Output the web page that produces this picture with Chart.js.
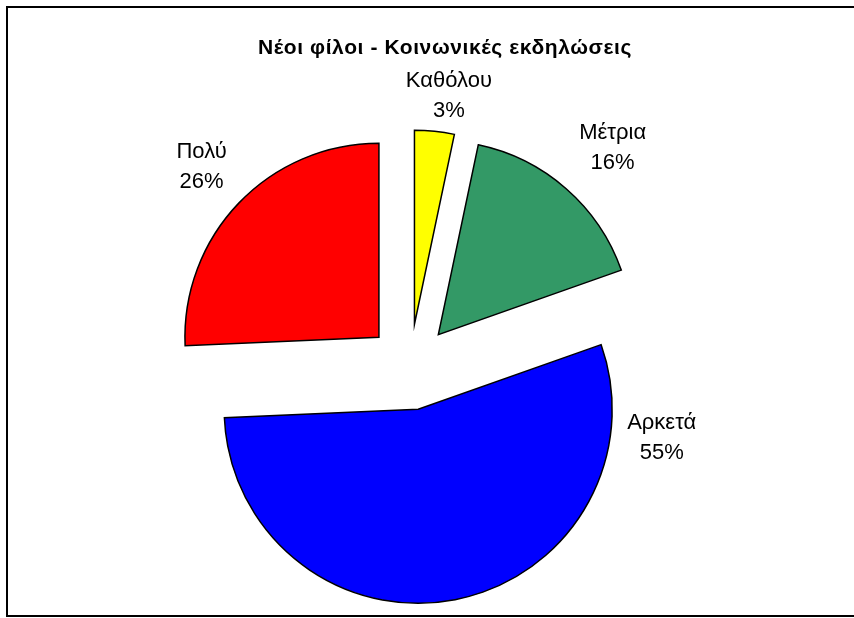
<!DOCTYPE html>
<html>
<head>
<meta charset="utf-8">
<script src="https://cdn.jsdelivr.net/npm/chart.js@4/dist/chart.umd.min.js"></script>
<style>
  html, body { margin: 0; padding: 0; background: #fff; }
</style>
</head>
<body>
<canvas id="pieChart" width="854" height="618"></canvas>
<script>
// Values (clockwise from 12 o'clock)
const categories = ['Καθόλου', 'Μέτρια', 'Αρκετά', 'Πολύ'];
const percentages = [3.3, 16.3, 54.7, 25.7];
const sliceColors = ['#FFFF00', '#339966', '#0000FF', '#FF0000'];
const chartTitle = 'Νέοι φίλοι - Κοινωνικές εκδηλώσεις';

// Label placement: angle from 12 o'clock (deg) and distance from the slice tip
const labelAngles = [8.5, 42.7, 96.3, 314.1];
const labelDistances = [233, 257, 245, 247];

const EXPLODE = 43; // every slice is pulled out by the same amount
const FONT = '"Liberation Sans", Arial, sans-serif';

// Push each arc out along its mid angle (Chart.js' own offset also grows the radius)
const explodePlugin = {
  id: 'explode',
  afterDatasetsUpdate(chart) {
    chart.getDatasetMeta(0).data.forEach(arc => {
      const mid = (arc.startAngle + arc.endAngle) / 2;
      arc.x += Math.cos(mid) * EXPLODE;
      arc.y += Math.sin(mid) * EXPLODE;
    });
  }
};

// Frame + title
const framePlugin = {
  id: 'frame',
  afterDraw(chart) {
    const ctx = chart.ctx;
    ctx.save();
    ctx.strokeStyle = '#000';
    ctx.lineWidth = 2;
    ctx.strokeRect(7, 7, 860, 609);
    ctx.font = 'bold 21px ' + FONT;
    ctx.letterSpacing = '0.6px';
    ctx.fillStyle = '#000';
    ctx.textAlign = 'center';
    ctx.fillText(chartTitle, 445, 54);
    ctx.restore();
  }
};

// Category name and percentage outside each slice
const labelPlugin = {
  id: 'sliceLabels',
  afterDatasetsDraw(chart) {
    const ctx = chart.ctx;
    const total = percentages.reduce((a, b) => a + b, 0);
    ctx.save();
    ctx.font = '22px ' + FONT;
    ctx.fillStyle = '#000';
    ctx.textAlign = 'center';
    ctx.textBaseline = 'alphabetic';
    chart.getDatasetMeta(0).data.forEach((arc, i) => {
      const a = (labelAngles[i] - 90) * Math.PI / 180;
      const cx = arc.x + Math.cos(a) * labelDistances[i];
      const cy = arc.y + Math.sin(a) * labelDistances[i];
      ctx.fillText(categories[i], cx, cy - 7);
      ctx.fillText(Math.round(percentages[i] / total * 100) + '%', cx, cy + 23);
    });
    ctx.restore();
  }
};

const ctx = document.getElementById('pieChart').getContext('2d');
new Chart(ctx, {
  type: 'pie',
  data: {
    labels: categories,
    datasets: [{
      data: percentages,
      backgroundColor: sliceColors,
      borderColor: '#000',
      borderWidth: 1.5,
      borderJoinStyle: 'miter',
      radius: 194,
      hoverOffset: 0,
      clip: false,
    }],
  },
  options: {
    responsive: false,
    animation: false,
    events: [],
    layout: { padding: { left: 0, right: 34, top: 116, bottom: 0 } },
    plugins: {
      legend: { display: false },
      title: { display: false },
      tooltip: { enabled: false },
    },
  },
  plugins: [explodePlugin, labelPlugin, framePlugin],
});
</script>
</body>
</html>
